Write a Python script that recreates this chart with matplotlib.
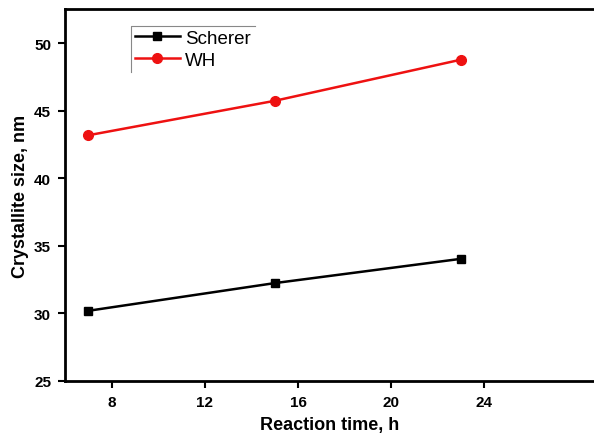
import matplotlib
matplotlib.use("Agg")
import matplotlib.pyplot as plt
from matplotlib.lines import Line2D

# reaction time (h) and crystallite size (nm)
time_h = [7, 15, 23]
scherer = [30.2, 32.25, 34.05]
wh = [43.2, 45.75, 48.8]

plt.rcParams["font.family"] = ["Liberation Sans", "DejaVu Sans"]

fig = plt.figure(figsize=(5.94, 4.39), dpi=100)
ax = fig.add_axes([65 / 594, 1 - 382 / 439, 529 / 594, 372 / 439])

ax.plot(time_h, scherer, "s-", color="black", lw=1.8, ms=6, label="Scherer")
ax.plot(time_h, wh, "o-", color="#ee1111", lw=1.8, ms=7, label="WH")

ax.set_xlim(6, 6 + 529 / 23.3)
ax.set_ylim(25, 52.55)
ax.set_xticks([8, 12, 16, 20, 24])
ax.set_yticks([25, 30, 35, 40, 45, 50])
ax.spines["right"].set_visible(False)
for s in ("left", "bottom", "top"):
    ax.spines[s].set_linewidth(2)
ax.tick_params(direction="out", length=5, width=1.5, labelsize=11, pad=5)
for lbl in ax.get_xticklabels() + ax.get_yticklabels():
    lbl.set_fontweight("bold")

ax.set_xlabel("Reaction time, h", fontsize=13, fontweight="bold", labelpad=5)
ax.set_ylabel("Crystallite size, nm", fontsize=13, fontweight="bold", labelpad=4)

leg = ax.legend(loc="upper left", bbox_to_anchor=(0.107, 0.98), fontsize=13.5,
                frameon=False, borderpad=0.2, handlelength=2.4,
                handletextpad=0.3, labelspacing=0.25)

# the legend box only shows its left and top edges
fig.canvas.draw()
bb = leg.get_window_extent().transformed(fig.transFigure.inverted())
fig.add_artist(Line2D([bb.x0, bb.x0, bb.x1], [bb.y0, bb.y1, bb.y1],
                      transform=fig.transFigure, color="#888888", lw=0.8))

fig.savefig("out.png", dpi=100)
